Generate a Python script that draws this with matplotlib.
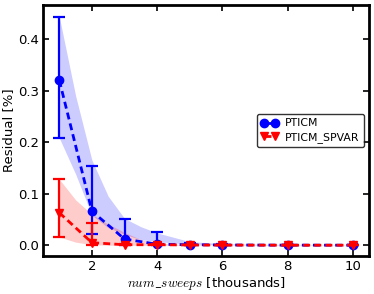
import matplotlib
matplotlib.use("Agg")
import matplotlib.pyplot as plt
import numpy as np

plt.rcParams['mathtext.fontset'] = 'cm'

# sweeps (thousands) where runs were measured
sweeps = [1, 2, 3, 4, 5, 6, 8, 10]

# PTICM: mean residual and errorbar ends
pticm_mean = [0.320, 0.066, 0.012, 0.002, 0.001, 0.0005, 0.0002, 0.0001]
pticm_lo   = [0.208, 0.021, 0.000, 0.000, 0.000, 0.0000, 0.0000, 0.0000]
pticm_hi   = [0.443, 0.153, 0.050, 0.026, 0.005, 0.0020, 0.0008, 0.0005]

# PTICM_SPVAR
spvar_mean = [0.063, 0.005, 0.001, 0.001, 0.0005, 0.0003, 0.0001, 0.0001]
spvar_lo   = [0.016, 0.000, 0.000, 0.000, 0.0000, 0.0000, 0.0000, 0.0000]
spvar_hi   = [0.128, 0.044, 0.003, 0.002, 0.0010, 0.0005, 0.0002, 0.0002]

# shaded bands (on a finer grid)
band_x        = [1, 1.5, 2, 2.5, 3, 3.5, 4, 5, 6, 8, 10]
pticm_band_lo = [0.208, 0.138, 0.058, 0.034, 0.021, 0.011, 0.007, 0.002, 0.001, 0.0, 0.0]
pticm_band_hi = [0.443, 0.290, 0.165, 0.095, 0.052, 0.036, 0.024, 0.007, 0.003, 0.001, 0.0005]
spvar_band_lo = [0.016, 0.006, 0.001, 0.0, 0.0, 0.0, 0.0, 0.0, 0.0, 0.0, 0.0]
spvar_band_hi = [0.128, 0.088, 0.060, 0.041, 0.025, 0.011, 0.004, 0.001, 0.0005, 0.0, 0.0]

fig = plt.figure(figsize=(3.74, 2.94), dpi=100)
ax = fig.add_axes([0.115, 0.129, 0.872, 0.854])

ax.fill_between(band_x, pticm_band_lo, pticm_band_hi, color='blue', alpha=0.2, linewidth=0)
ax.fill_between(band_x, spvar_band_lo, spvar_band_hi, color='red', alpha=0.2, linewidth=0)

series = [
    (pticm_mean, pticm_lo, pticm_hi, 'blue', 'o', 'PTICM'),
    (spvar_mean, spvar_lo, spvar_hi, 'red', 'v', 'PTICM_SPVAR'),
]
for mean, lo, hi, c, mk, lab in series:
    m = np.array(mean)
    yerr = [m - np.array(lo), np.array(hi) - m]
    ax.errorbar(sweeps, mean, yerr=yerr, fmt='none', ecolor=c,
                elinewidth=1.6, capsize=4, capthick=1.6)
    ax.plot(sweeps, mean, ls='--', dashes=(2.5, 1.5), lw=2, color=c,
            marker=mk, ms=6, mec=c, label=lab)

ax.set_xlim(0.5, 10.5)
ax.set_ylim(-0.021, 0.466)
ax.set_xticks([2, 4, 6, 8, 10])
ax.set_yticks([0.0, 0.1, 0.2, 0.3, 0.4])
ax.tick_params(direction='in', top=True, right=True, length=4, width=1.2,
               labelsize=9.5, pad=3)
for s in ax.spines.values():
    s.set_linewidth(2)

ax.set_xlabel(r'$num\_sweeps$ [thousands]', fontsize=9.5, labelpad=1)
ax.set_ylabel('Residual [%]', fontsize=9.5, labelpad=2)

leg = ax.legend(loc='center right', numpoints=2, fontsize=7.8, fancybox=True,
                handlelength=1.6, borderpad=0.4, labelspacing=0.3, handletextpad=0.6)
leg.get_frame().set_edgecolor('black')

fig.savefig('out.png', dpi=100)
